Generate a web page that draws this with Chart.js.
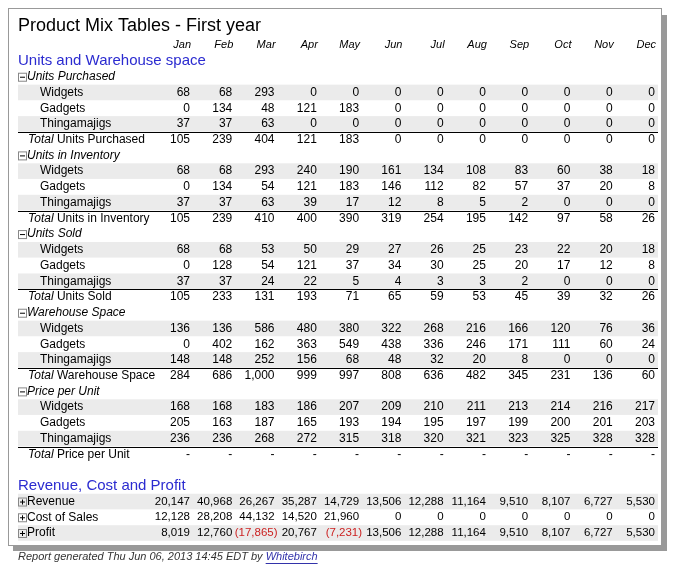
<!DOCTYPE html>
<html>
<head>
<meta charset="utf-8">
<script src="https://cdn.jsdelivr.net/npm/chart.js@4/dist/chart.umd.min.js"></script>
<style>
  body { margin: 0; background: #fff; }
  #wrap { width: 675px; height: 575px; }
</style>
</head>
<body>
<div id="wrap"><canvas id="table"></canvas></div>
<script>
// Product Mix Tables - data
const months = ["Jan", "Feb", "Mar", "Apr", "May", "Jun", "Jul", "Aug", "Sep", "Oct", "Nov", "Dec"];

const purchasedWidgets = [68, 68, 293, 0, 0, 0, 0, 0, 0, 0, 0, 0];
const purchasedGadgets = [0, 134, 48, 121, 183, 0, 0, 0, 0, 0, 0, 0];
const purchasedThings = [37, 37, 63, 0, 0, 0, 0, 0, 0, 0, 0, 0];
const purchasedTotal = [105, 239, 404, 121, 183, 0, 0, 0, 0, 0, 0, 0];

const inventoryWidgets = [68, 68, 293, 240, 190, 161, 134, 108, 83, 60, 38, 18];
const inventoryGadgets = [0, 134, 54, 121, 183, 146, 112, 82, 57, 37, 20, 8];
const inventoryThings = [37, 37, 63, 39, 17, 12, 8, 5, 2, 0, 0, 0];
const inventoryTotal = [105, 239, 410, 400, 390, 319, 254, 195, 142, 97, 58, 26];

const soldWidgets = [68, 68, 53, 50, 29, 27, 26, 25, 23, 22, 20, 18];
const soldGadgets = [0, 128, 54, 121, 37, 34, 30, 25, 20, 17, 12, 8];
const soldThings = [37, 37, 24, 22, 5, 4, 3, 3, 2, 0, 0, 0];
const soldTotal = [105, 233, 131, 193, 71, 65, 59, 53, 45, 39, 32, 26];

const spaceWidgets = [136, 136, 586, 480, 380, 322, 268, 216, 166, 120, 76, 36];
const spaceGadgets = [0, 402, 162, 363, 549, 438, 336, 246, 171, 111, 60, 24];
const spaceThings = [148, 148, 252, 156, 68, 48, 32, 20, 8, 0, 0, 0];
const spaceTotal = [284, 686, 1000, 999, 997, 808, 636, 482, 345, 231, 136, 60];

const priceWidgets = [168, 168, 183, 186, 207, 209, 210, 211, 213, 214, 216, 217];
const priceGadgets = [205, 163, 187, 165, 193, 194, 195, 197, 199, 200, 201, 203];
const priceThings = [236, 236, 268, 272, 315, 318, 320, 321, 323, 325, 328, 328];
const priceTotal = [null, null, null, null, null, null, null, null, null, null, null, null];

const revenue = [20147, 40968, 26267, 35287, 14729, 13506, 12288, 11164, 9510, 8107, 6727, 5530];
const costOfSales = [12128, 28208, 44132, 14520, 21960, 0, 0, 0, 0, 0, 0, 0];
const profit = [8019, 12760, -17865, 20767, -7231, 13506, 12288, 11164, 9510, 8107, 6727, 5530];

// row kinds: heading, group, item, total, blank, money
const rows = [
    { kind: "heading", label: "Units and Warehouse space" },
    { kind: "group", label: "Units Purchased" },
    { kind: "item", label: "Widgets", values: purchasedWidgets, shade: true },
    { kind: "item", label: "Gadgets", values: purchasedGadgets },
    { kind: "item", label: "Thingamajigs", values: purchasedThings, shade: true },
    { kind: "total", label: "Units Purchased", values: purchasedTotal },
    { kind: "group", label: "Units in Inventory" },
    { kind: "item", label: "Widgets", values: inventoryWidgets, shade: true },
    { kind: "item", label: "Gadgets", values: inventoryGadgets },
    { kind: "item", label: "Thingamajigs", values: inventoryThings, shade: true },
    { kind: "total", label: "Units in Inventory", values: inventoryTotal },
    { kind: "group", label: "Units Sold" },
    { kind: "item", label: "Widgets", values: soldWidgets, shade: true },
    { kind: "item", label: "Gadgets", values: soldGadgets },
    { kind: "item", label: "Thingamajigs", values: soldThings, shade: true },
    { kind: "total", label: "Units Sold", values: soldTotal },
    { kind: "group", label: "Warehouse Space" },
    { kind: "item", label: "Widgets", values: spaceWidgets, shade: true },
    { kind: "item", label: "Gadgets", values: spaceGadgets },
    { kind: "item", label: "Thingamajigs", values: spaceThings, shade: true },
    { kind: "total", label: "Warehouse Space", values: spaceTotal },
    { kind: "group", label: "Price per Unit" },
    { kind: "item", label: "Widgets", values: priceWidgets, shade: true },
    { kind: "item", label: "Gadgets", values: priceGadgets },
    { kind: "item", label: "Thingamajigs", values: priceThings, shade: true },
    { kind: "total", label: "Price per Unit", values: priceTotal },
    { kind: "blank", label: "" },
    { kind: "heading", label: "Revenue, Cost and Profit" },
    { kind: "money", label: "Revenue", values: revenue, shade: true },
    { kind: "money", label: "Cost of Sales", values: costOfSales },
    { kind: "money", label: "Profit", values: profit, shade: true },
];

const FONT = "'Liberation Sans', Arial, sans-serif";

fmt = (v) => {
    if (v === null) return "-";
    const s = Math.abs(v).toLocaleString("en-US");
    return v < 0 ? "(" + s + ")" : s;
};

drawBox = (ctx, x, y, minus) => {
    ctx.save();
    ctx.strokeStyle = "#888";
    ctx.lineWidth = 1;
    ctx.strokeRect(x + 0.5, y + 0.5, 8, 8);
    ctx.strokeStyle = "#000";
    ctx.beginPath();
    ctx.moveTo(x + 2, y + 4.5); ctx.lineTo(x + 7, y + 4.5);
    if (!minus) { ctx.moveTo(x + 4.5, y + 2); ctx.lineTo(x + 4.5, y + 7); }
    ctx.stroke();
    ctx.restore();
};

const tablePlugin = {
    id: "tablePlugin",
    beforeDraw(chart) {
        const ctx = chart.ctx;
        ctx.save();
        // frame with shadow
        ctx.fillStyle = "#999";
        ctx.fillRect(13, 15, 654, 536);
        ctx.fillStyle = "#fff";
        ctx.fillRect(8, 8, 654, 538);
        ctx.strokeStyle = "#999";
        ctx.strokeRect(8.5, 8.5, 653, 537);
        ctx.restore();
    },
    afterDraw(chart) {
        const ctx = chart.ctx;
        const xs = chart.scales.x;
        const ys = chart.scales.y;
        const half = 7.8;
        ctx.save();
        ctx.textBaseline = "middle";

        // title
        ctx.fillStyle = "#000";
        ctx.font = "18px " + FONT;
        ctx.textAlign = "left";
        ctx.fillText("Product Mix Tables - First year", 18, 26);

        // month header
        ctx.font = "italic 11px " + FONT;
        ctx.textAlign = "right";
        months.forEach((m, i) => ctx.fillText(m, xs.getPixelForValue(i) + 1, 45));

        rows.forEach((r, j) => {
            const y = ys.getPixelForValue(j);
            if (r.shade) {
                ctx.fillStyle = "#ebebeb";
                ctx.fillRect(18, y - half, 640, half * 2);
            }
            ctx.textAlign = "left";
            ctx.fillStyle = "#000";
            if (r.kind === "heading") {
                ctx.fillStyle = "#2b2bd0";
                ctx.font = "15px " + FONT;
                ctx.fillText(r.label, 18, y);
            } else if (r.kind === "group") {
                drawBox(ctx, 18, y - 4, true);
                ctx.font = "italic 12px " + FONT;
                ctx.fillText(r.label, 27, y);
            } else if (r.kind === "item") {
                ctx.font = "12px " + FONT;
                ctx.fillText(r.label, 40, y);
            } else if (r.kind === "total") {
                ctx.strokeStyle = "#000";
                ctx.lineWidth = 1;
                ctx.beginPath();
                ctx.moveTo(18, Math.round(y - half) + 0.5);
                ctx.lineTo(658, Math.round(y - half) + 0.5);
                ctx.stroke();
                ctx.font = "italic 12px " + FONT;
                ctx.fillText("Total", 28, y);
                const w = ctx.measureText("Total ").width;
                ctx.font = "12px " + FONT;
                ctx.fillText(r.label, 28 + w, y);
            } else if (r.kind === "money") {
                drawBox(ctx, 18, y - 4, false);
                ctx.font = "12px " + FONT;
                ctx.fillText(r.label, 27, y);
            }
            if (r.values) {
                ctx.font = (r.kind === "money" ? "11.5px " : "12px ") + FONT;
                ctx.textAlign = "right";
                r.values.forEach((v, i) => {
                    const x = xs.getPixelForValue(i);
                    ctx.fillStyle = v !== null && v < 0 ? "#cc2222" : "#000";
                    if (v !== null && v < 0) ctx.fillText(fmt(v), x + 3, y);
                    else ctx.fillText(fmt(v), x, y);
                });
            }
        });

        // footer
        ctx.textAlign = "left";
        ctx.font = "italic 11px " + FONT;
        ctx.fillStyle = "#333";
        const foot = "Report generated Thu Jun 06, 2013 14:45 EDT by ";
        ctx.fillText(foot, 18, 557);
        const fw = ctx.measureText(foot).width;
        ctx.fillStyle = "#3333aa";
        ctx.fillText("Whitebirch", 18 + fw, 557);
        const lw = ctx.measureText("Whitebirch").width;
        ctx.fillRect(18 + fw, 563, lw, 1);
        ctx.restore();
    },
};

setupTable = () => {
    const config = {
        type: "line",
        data: {
            labels: months,
            datasets: [{ data: [], yAxisID: "y" }],
        },
        options: {
            responsive: true,
            maintainAspectRatio: false,
            animation: false,
            events: [],
            layout: { padding: { left: 190, right: 20, top: 61, bottom: 42 } },
            plugins: { legend: { display: false }, tooltip: { enabled: false } },
            scales: {
                x: { type: "category", labels: months, offset: false, display: false },
                y: { type: "category", labels: rows.map((r, j) => r.label + "#" + j), offset: false, display: false },
            },
        },
        plugins: [tablePlugin],
    };
    new Chart(document.getElementById("table"), config);
};

setupTable();
</script>
</body>
</html>
